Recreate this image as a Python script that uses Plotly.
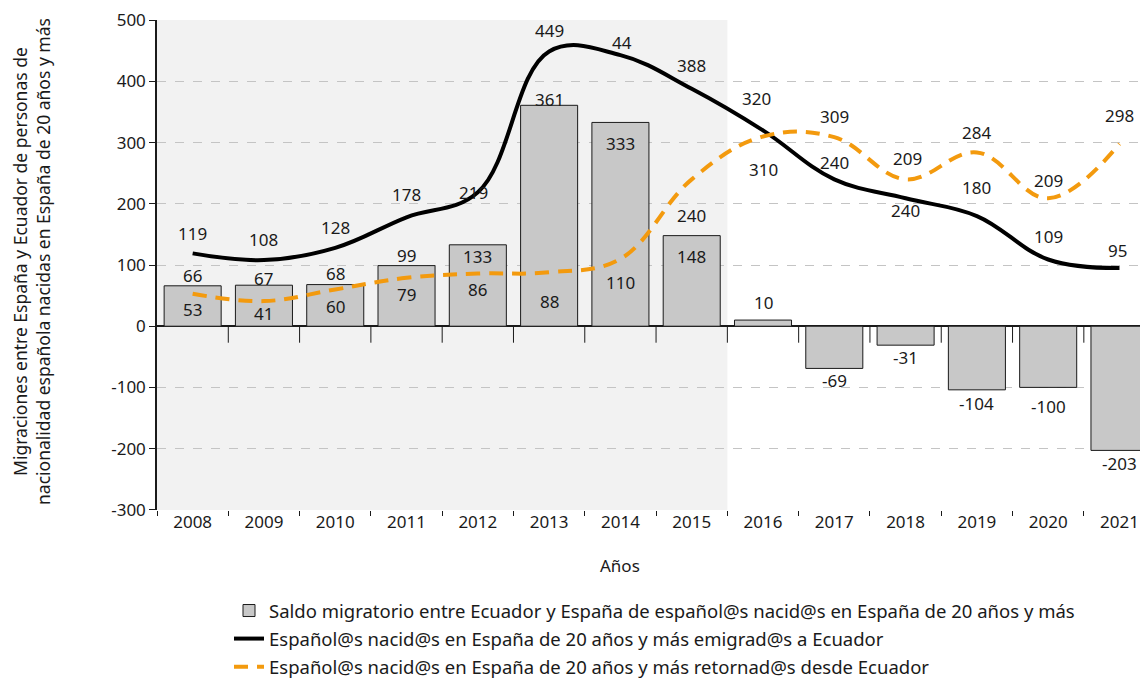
import plotly.graph_objects as go

# ---------------- data ----------------
years = ["2008", "2009", "2010", "2011", "2012", "2013", "2014",
         "2015", "2016", "2017", "2018", "2019", "2020", "2021"]
saldo = [66, 67, 68, 99, 133, 361, 333, 148, 10, -69, -31, -104, -100, -203]
emigrados = [119, 108, 128, 178, 219, 449, 443, 388, 320, 240, 209, 180, 109, 95]
retornados = [53, 41, 60, 79, 86, 88, 110, 240, 310, 309, 240, 284, 209, 298]

y_ticks = [-300, -200, -100, 0, 100, 200, 300, 400, 500]
y_ticktext = ["-300", "-200", "-100", "0", "100", "200", "300", "400", "500"]

# label texts as printed on the original chart
saldo_labels = [str(v) for v in saldo]
emig_labels = ["119", "108", "128", "178", "219", "449", "44", "388", "320",
               "240", "209", "180", "109", "95"]
ret_labels = [str(v) for v in retornados]

name_bar = "Saldo migratorio entre Ecuador y España de español@s nacid@s en España de 20 años y más"
name_emig = "Español@s nacid@s en España de 20 años y más emigrad@s a Ecuador"
name_ret = "Español@s nacid@s en España de 20 años y más retornad@s desde Ecuador"

y_title = ("Migraciones entre España y Ecuador de personas de<br>"
           "nacionalidad española nacidas en España de 20 años y más")

# ---------------- label placement (pixels) ----------------
saldo_off = [10, 7, 11, 10, -12, 6, -21, -21, 18, -12, -12, -14, -19, -13]
emig_off = [20, 21, 20, 23, 0, 21, 13, 23, 32, 17, 40, 29, 23, 18]
emig_xoff = [0, 0, 0, 0, -4, 0, 2, 0, -7, 0, 2, 0, 0, -2]
ret_off = [-16, -12, -17, -17, -16, -29, -24, -36, -33, 21, -31, 20, 18, 28]

FONT = "Noto Sans"
TXT = "#1a1a1a"
ORANGE = "#F39A0E"
FS = 17

# page has an 8px body margin: plot area on page spans x 157..1148, y 20..510
W, H = 1140, 674
ML, MT, PW, PH = 149, 12, 991, 490


def px_x(page_x):
    return (page_x - 8 - ML) / PW


def px_y(page_y):
    return 1 - (page_y - 8 - MT) / PH


fig = go.Figure()

fig.add_trace(go.Bar(
    x=years, y=saldo, name=name_bar, legendgroup="a",
    marker=dict(color="#C8C8C8", line=dict(color="#1a1a1a", width=1)),
    width=0.8,
))
fig.add_trace(go.Scatter(
    x=years, y=emigrados, name=name_emig, legendgroup="b", mode="lines",
    line=dict(color="black", width=4, shape="spline", smoothing=1.1),
))
fig.add_trace(go.Scatter(
    x=years, y=retornados, name=name_ret, legendgroup="c", mode="lines",
    line=dict(color=ORANGE, width=4, shape="spline", smoothing=1.1, dash="14px,9px"),
))

ann = []
lab_font = dict(size=FS, color=TXT, family=FONT)
for i in range(len(years)):
    ann.append(dict(x=i, y=saldo[i], text=saldo_labels[i], showarrow=False,
                    yshift=saldo_off[i], font=lab_font))
    ann.append(dict(x=i, y=emigrados[i], text=emig_labels[i], showarrow=False,
                    yshift=emig_off[i], xshift=emig_xoff[i], font=lab_font))
    ann.append(dict(x=i, y=retornados[i], text=ret_labels[i], showarrow=False,
                    yshift=ret_off[i], font=lab_font))

ann.append(dict(xref="paper", yref="paper", x=px_x(32), y=px_y(262), text=y_title,
                textangle=-90, showarrow=False, align="center",
                xanchor="center", yanchor="middle", borderpad=0,
                font=dict(size=17.5, color=TXT, family=FONT)))
ann.append(dict(xref="paper", yref="paper", x=px_x(620), y=px_y(565),
                xanchor="center", yanchor="middle", text="Años", showarrow=False,
                font=dict(size=FS, color=TXT, family=FONT)))

shapes = [dict(type="rect", xref="x", yref="paper", x0=-0.5, x1=7.5, y0=0, y1=1,
               fillcolor="#F2F2F2", line=dict(width=0), layer="below")]
for k in range(1, len(years)):
    shapes.append(dict(type="line", xref="x", yref="y", x0=k - 0.5, x1=k - 0.5,
                       y0=0, y1=-27, line=dict(color="#1a1a1a", width=1)))

fig.update_layout(
    width=W, height=H,
    margin=dict(l=ML, r=W - ML - PW, t=MT, b=H - MT - PH, autoexpand=False),
    paper_bgcolor="white", plot_bgcolor="rgba(0,0,0,0)",
    font=dict(family=FONT, size=FS, color=TXT),
    showlegend=True,
    legend=dict(xref="paper", yref="paper", x=px_x(229), y=px_y(592),
                xanchor="left", yanchor="top", orientation="v",
                font=dict(size=18.5, family=FONT, color=TXT),
                tracegroupgap=1, itemwidth=30, bgcolor="rgba(0,0,0,0)"),
    annotations=ann, shapes=shapes, bargap=0.2,
)
fig.update_xaxes(type="category", range=[-0.5, 13.4], showgrid=False, showline=False,
                 ticks="outside", tickson="boundaries", ticklen=5, tickcolor="#1a1a1a",
                 tickangle=0, tickfont=dict(size=FS, family=FONT, color=TXT), zeroline=False)
fig.update_yaxes(range=[-300.4, 500.4], tickvals=y_ticks, ticktext=y_ticktext,
                 showgrid=True, gridcolor="#C4C4C4",
                 griddash="dash", gridwidth=1, showline=True, linecolor="#1a1a1a",
                 linewidth=1.5, ticks="outside", ticklen=6, tickcolor="#1a1a1a",
                 tickfont=dict(size=FS, family=FONT, color=TXT),
                 zeroline=True, zerolinecolor="#1a1a1a", zerolinewidth=1.5)

fig.write_html("out.html")
